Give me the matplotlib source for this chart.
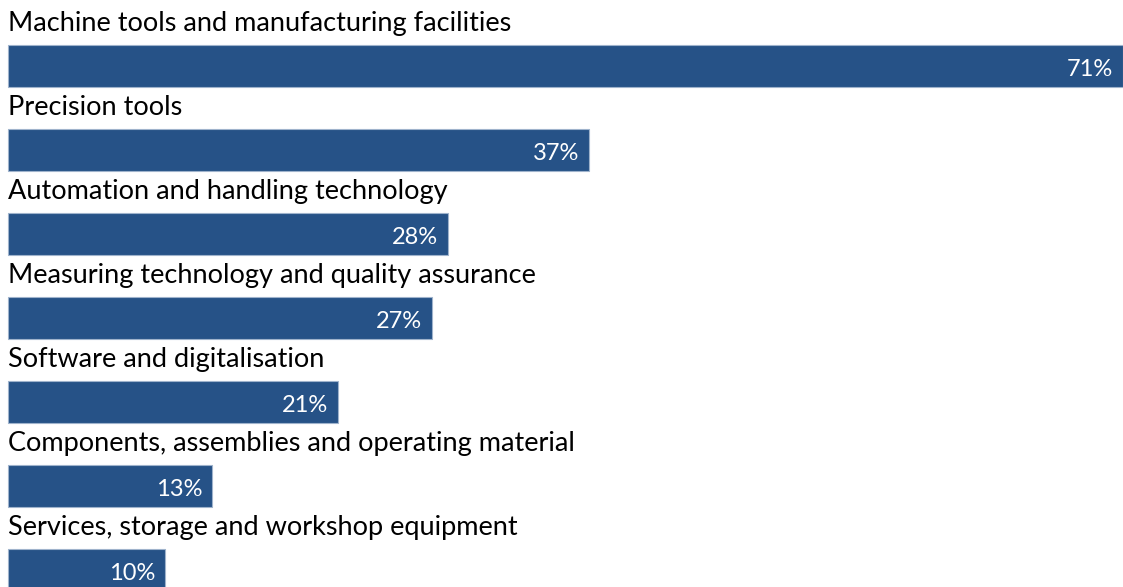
import matplotlib
matplotlib.use("Agg")
import matplotlib.pyplot as plt

categories = [
    "Machine tools and manufacturing facilities",
    "Precision tools",
    "Automation and handling technology",
    "Measuring technology and quality assurance",
    "Software and digitalisation",
    "Components, assemblies and operating material",
    "Services, storage and workshop equipment",
]
values = [71, 37, 28, 27, 21, 13, 10]

W, H = 1123, 587
fig = plt.figure(figsize=(W / 100, H / 100), dpi=100)
ax = fig.add_axes([0, 0, 1, 1])
ax.set_axis_off()

px_per_unit = 15.7
left_px = 8
ax.set_xlim(-left_px / px_per_unit, (W - left_px) / px_per_unit)
ax.set_ylim(H, 0)

step = 84
bar_h = 42
first_top = 45
color = "#265287"
font = "Lato"

for i, (cat, v) in enumerate(zip(categories, values)):
    top = first_top + i * step
    ax.barh(top + bar_h / 2, v, height=bar_h, left=0, color=color,
            edgecolor="#9fb3cc", linewidth=0.8)
    ax.text(0, top - 14, cat, ha="left", va="baseline", fontsize=19.5,
            family=font, color="#000000")
    ax.text(v - 10 / px_per_unit, top + 31, f"{v}%", ha="right",
            va="baseline", fontsize=17, family=font, color="white")

fig.savefig("out.png", dpi=100)
